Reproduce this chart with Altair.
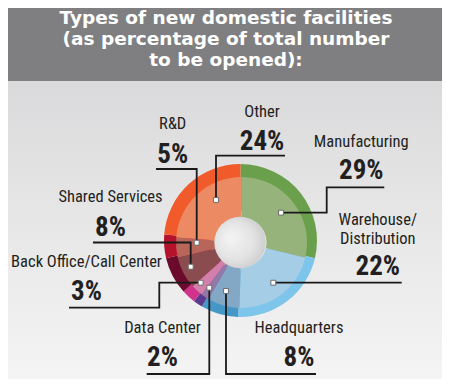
import math
import altair as alt
import pandas as pd

# ---------------- data ----------------
categories = ["Manufacturing", "Warehouse/Distribution", "Headquarters", "Data Center",
              "Back Office/Call Center", "Shared Services", "R&D", "Other"]
values = [29, 22, 8, 2, 3, 8, 5, 24]
outer_colors = ["#6aa04c", "#7dc5ea", "#4597c8", "#5c3b8f", "#d1338c", "#6c0a2b", "#b5132b", "#f15a2b"]
inner_colors = ["#97b37c", "#a5cde5", "#82a8c5", "#9479a8", "#d27fab", "#8a4c4e", "#b8655a", "#ec8a64"]
name_lines = [["Manufacturing"], ["Warehouse/", "Distribution"], ["Headquarters"], ["Data Center"],
              ["Back Office/Call Center"], ["Shared Services"], ["R&D"], ["Other"]]
title_lines = ["Types of new domestic facilities", "(as percentage of total number", "to be opened):"]

# ---------------- layout (page pixels, shifted by the 8px page margin) ----------------
OFF = 8
W, H = 434, 371
CX, CY = 240.5 - OFF, 240.5 - OFF          # donut centre
R_OUT = 76.5
INNER_C = (241.5 - OFF, 242.5 - OFF)
R_IN = 65.5
HOLE_C = (240 - OFF, 242.5 - OFF)
R_HOLE = 29

# label anchors: (centre x, name baseline, line gap, percent baseline)
label_pos = [(361.3, 147.3, 0, 179.3), (377.8, 225.2, 19, 275), (299, 333.3, 0, 366),
             (162.5, 333.3, 0, 366), (86.5, 266.7, 0, 300), (110.5, 202.3, 0, 235.7),
             (172.7, 129.3, 0, 162.7), (262, 116.7, 0, 150)]
# leader lines: marker first, then elbows
leader_pts = [
    [(281, 212.7), (326.7, 212.7), (326.7, 187.3), (384.3, 187.3)],
    [(273.3, 282.7), (401.7, 282.7)],
    [(226, 291), (226, 374), (316, 374)],
    [(209.3, 287.7), (209.3, 374), (146.7, 374)],
    [(200.7, 282.7), (159.3, 282.7), (159.3, 307.7), (69, 307.7)],
    [(190.7, 266.7), (190.7, 242.5), (93, 242.5)],
    [(196.7, 242.7), (196.7, 169), (156, 169)],
    [(216, 200), (216, 155.7), (285, 155.7)],
]
title_base = [24, 45, 66]

NAME_FONT = "Liberation Sans Narrow, Roboto Condensed, Roboto, sans-serif"
TXT = "#231f20"

# ---------------- tables ----------------
df = pd.DataFrame({"cat": categories, "value": values, "idx": list(range(len(categories))),
                   "outer": outer_colors, "inner": inner_colors})

names = []
pcts = []
for i, c in enumerate(categories):
    x, nb, gap, pb = label_pos[i]
    for j, line in enumerate(name_lines[i]):
        names.append({"tx": x - OFF, "ty": nb + j * gap - OFF, "label": line})
    pcts.append({"tx": x - OFF, "ty": pb - OFF, "label": f"{values[i]}%"})
names = pd.DataFrame(names)
pcts = pd.DataFrame(pcts)

lines = []
marks = []
for i, pts in enumerate(leader_pts):
    for k, (x, y) in enumerate(pts):
        lines.append({"lid": categories[i], "ord": k, "px": x - OFF, "py": y - OFF})
    marks.append({"px": pts[0][0] - OFF, "py": pts[0][1] - OFF})
lines = pd.DataFrame(lines)
marks = pd.DataFrame(marks)

titles = pd.DataFrame({"label": title_lines, "ty": [b - OFF for b in title_base], "tx": [226 - OFF] * 3})
one = pd.DataFrame({"v": [1]})

X = lambda f: alt.X(f, scale=None, axis=None)
Y = lambda f: alt.Y(f, scale=None, axis=None)

# ---------------- layers ----------------
bg = alt.Chart(one).mark_rect(
    fill=alt.LinearGradient(gradient="linear", x1=0, y1=0, x2=0, y2=1,
                            stops=[alt.GradientStop(color="#d3d3d5", offset=0),
                                   alt.GradientStop(color="#e6e6e7", offset=0.55),
                                   alt.GradientStop(color="#f4f4f4", offset=1)])
).encode(x=alt.value(0), x2=alt.value(W), y=alt.value(0), y2=alt.value(H))

banner = alt.Chart(one).mark_rect(fill="#7f7f81").encode(
    x=alt.value(0), x2=alt.value(W), y=alt.value(0), y2=alt.value(81 - OFF))

title_txt = alt.Chart(titles).mark_text(
    font="DejaVu Sans", fontWeight="bold", fontSize=18.5, color="#ffffff",
    align="center", baseline="alphabetic"
).encode(x=X("tx:Q"), y=Y("ty:Q"), text="label:N")

outer = alt.Chart(df).mark_arc(outerRadius=R_OUT, innerRadius=30, strokeWidth=0).encode(
    theta=alt.Theta("value:Q", stack=True), order=alt.Order("idx:Q"),
    color=alt.Color("outer:N", scale=None), x=alt.value(CX), y=alt.value(CY))

inner = alt.Chart(df).mark_arc(outerRadius=R_IN, innerRadius=25, strokeWidth=0).encode(
    theta=alt.Theta("value:Q", stack=True), order=alt.Order("idx:Q"),
    color=alt.Color("inner:N", scale=None), x=alt.value(INNER_C[0]), y=alt.value(INNER_C[1]))

hole = alt.Chart(one).mark_circle(
    size=math.pi * R_HOLE ** 2, opacity=1,
    fill=alt.RadialGradient(gradient="radial", x1=0.3, y1=0.4, r1=0, x2=0.45, y2=0.5, r2=0.6,
                            stops=[alt.GradientStop(color="#f4f4f4", offset=0),
                                   alt.GradientStop(color="#e4e4e5", offset=0.6),
                                   alt.GradientStop(color="#cacacc", offset=1)])
).encode(x=alt.value(HOLE_C[0]), y=alt.value(HOLE_C[1]))

leader = alt.Chart(lines).mark_line(color="#1a1a1a", strokeWidth=1.8).encode(
    x=X("px:Q"), y=Y("py:Q"), detail="lid:N", order="ord:Q")

marker = alt.Chart(marks).mark_square(size=24, fill="#ffffff", stroke="#6d6d6d",
                                      strokeWidth=1, opacity=1).encode(x=X("px:Q"), y=Y("py:Q"))

name_txt = alt.Chart(names).mark_text(
    font=NAME_FONT, fontSize=16.5, color=TXT, align="center", baseline="alphabetic"
).encode(x=X("tx:Q"), y=Y("ty:Q"), text="label:N")

pct_txt = alt.Chart(pcts).mark_text(
    font=NAME_FONT, fontWeight="bold", fontSize=27, color=TXT, align="center", baseline="alphabetic"
).encode(x=X("tx:Q"), y=Y("ty:Q"), text="label:N")

chart = alt.layer(bg, banner, title_txt, outer, inner, hole, leader, marker, name_txt, pct_txt).properties(
    width=W, height=H, padding=0, autosize="none"
).configure_view(stroke=None)

chart.save("out.html", embed_options={"renderer": "svg", "actions": False})
